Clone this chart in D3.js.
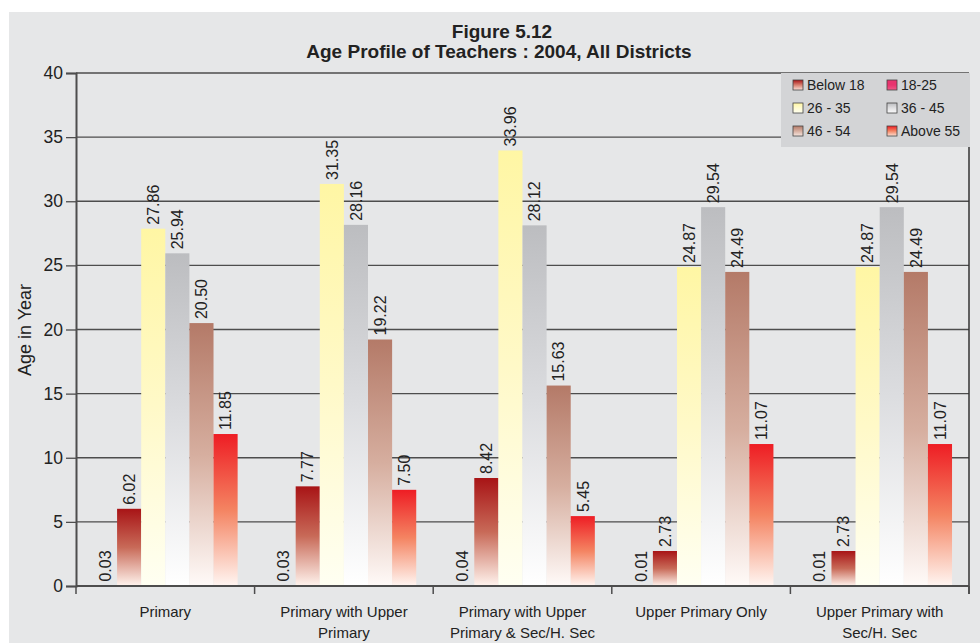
<!DOCTYPE html>
<meta charset="utf-8">
<style>

body {
    margin: 0;
    background: #fff;
}

svg text {
    font-family: "Liberation Sans", Arial, sans-serif;
    fill: #222;
}

.grid line {
    stroke: #4d4d4d;
    stroke-width: 1.3px;
}

.title {
    font-size: 19px;
    font-weight: bold;
}

.value {
    font-size: 16px;
}

</style>

<svg width="980" height="643"></svg>
<script src="https://cdn.jsdelivr.net/npm/d3@7"></script>

<script>

// chart data
var categories = [
    ["Primary"],
    ["Primary with Upper", "Primary"],
    ["Primary with Upper", "Primary & Sec/H. Sec"],
    ["Upper Primary Only"],
    ["Upper Primary with", "Sec/H. Sec"]
];
var seriesNames = ["Below 18", "18-25", "26 - 35", "36 - 45", "46 - 54", "Above 55"];
var below18  = [0.03, 0.03, 0.04, 0.01, 0.01];
var age18_25 = [6.02, 7.77, 8.42, 2.73, 2.73];
var age26_35 = [27.86, 31.35, 33.96, 24.87, 24.87];
var age36_45 = [25.94, 28.16, 28.12, 29.54, 29.54];
var age46_54 = [20.50, 19.22, 15.63, 24.49, 24.49];
var above55  = [11.85, 7.50, 5.45, 11.07, 11.07];
var yTicks = [0, 5, 10, 15, 20, 25, 30, 35, 40];

var seriesValues = [below18, age18_25, age26_35, age36_45, age46_54, above55];

// gradient stops [top, middle, bottom] for the bars
var barColors = [
    ["#e8336e", "#f07aa0", "#fff0f4"],
    ["#a81416", "#c86a58", "#fff4ee"],
    ["#fff6a4", "#fff9c8", "#fffff2"],
    ["#bcbdc0", "#dcdde0", "#ffffff"],
    ["#b47a68", "#d6ae9f", "#fffaf8"],
    ["#ee1d24", "#f48462", "#fff6f2"]
];
// legend swatch colours (as printed in the legend)
var legendColors = [
    ["#a81416", "#d88070", "#fbe0d8"],
    ["#e8336e", "#e8336e", "#f05a88"],
    ["#fff6a4", "#fffbd0", "#fffff0"],
    ["#bcbdc0", "#e0e0e2", "#fafafa"],
    ["#b47a68", "#d6ae9f", "#f6e6e0"],
    ["#ee1d24", "#f48462", "#fde0d4"]
];

var svg = d3.select("svg"),
    margin = {top: 73, right: 11, bottom: 57, left: 76},
    width = +svg.attr("width") - margin.left - margin.right,
    height = +svg.attr("height") - margin.top - margin.bottom;

// background panel
svg.append("rect")
    .attr("x", 9)
    .attr("y", 12)
    .attr("width", 980 - 9)
    .attr("height", 643 - 12)
    .attr("fill", "#e6e7e8");

var defs = svg.append("defs");

function addGradient(id, stops) {
    var g = defs.append("linearGradient")
        .attr("id", id)
        .attr("x1", 0).attr("y1", 0)
        .attr("x2", 0).attr("y2", 1);
    g.selectAll("stop")
        .data(stops)
        .enter().append("stop")
        .attr("offset", function(d, i) { return (i * 50) + "%"; })
        .attr("stop-color", function(d) { return d; });
}

barColors.forEach(function(c, i) { addGradient("bar" + i, c); });
legendColors.forEach(function(c, i) { addGradient("leg" + i, c); });

var x0 = d3.scaleBand()
    .domain(d3.range(categories.length))
    .range([0, width])
    .paddingInner(0.19)
    .paddingOuter(0.095);

var x1 = d3.scaleBand()
    .domain(d3.range(seriesNames.length))
    .range([0, x0.bandwidth()]);

var y = d3.scaleLinear()
    .domain([0, 40])
    .range([height, 0]);

var g = svg.append("g")
    .attr("transform", "translate(" + margin.left + "," + margin.top + ")");

// horizontal grid lines
g.append("g")
    .attr("class", "grid")
    .selectAll("line")
    .data(yTicks.slice(1))
    .enter().append("line")
    .attr("x1", 0)
    .attr("x2", width)
    .attr("y1", function(d) { return y(d); })
    .attr("y2", function(d) { return y(d); });

// y axis
var yAxis = g.append("g")
    .call(d3.axisLeft(y).tickValues(yTicks).tickSize(10).tickPadding(3).tickFormat(d3.format("d")));
yAxis.select(".domain").attr("stroke", "#4d4d4d").attr("stroke-width", 2);
yAxis.selectAll(".tick line").attr("stroke", "#4d4d4d").attr("stroke-width", 1.3);
yAxis.selectAll(".tick text")
    .attr("font-size", 17.5)
    .attr("font-family", "Liberation Sans, Arial, sans-serif")
    .attr("fill", "#222");

// right border
g.append("line")
    .attr("x1", width).attr("x2", width)
    .attr("y1", 0).attr("y2", height + 8)
    .attr("stroke", "#333")
    .attr("stroke-width", 1.5);

// bars
var groups = g.selectAll(".group")
    .data(categories)
    .enter().append("g")
    .attr("class", "group")
    .attr("transform", function(d, i) { return "translate(" + x0(i) + ",0)"; });

groups.selectAll("rect")
    .data(function(d, i) {
        return seriesValues.map(function(s, j) { return {s: j, v: s[i]}; });
    })
    .enter().append("rect")
    .attr("x", function(d) { return x1(d.s); })
    .attr("width", x1.bandwidth())
    .attr("y", function(d) { return y(d.v); })
    .attr("height", function(d) { return height - y(d.v); })
    .attr("fill", function(d) { return "url(#bar" + d.s + ")"; });

groups.selectAll(".value")
    .data(function(d, i) {
        return seriesValues.map(function(s, j) { return {s: j, v: s[i]}; });
    })
    .enter().append("text")
    .attr("class", "value")
    .attr("transform", function(d) {
        return "translate(" + (x1(d.s) + x1.bandwidth() / 2) + "," + (y(d.v) - 4) + ") rotate(-90)";
    })
    .attr("dy", "0.36em")
    .text(function(d) { return d.v.toFixed(2); });

// x axis
var xAxis = g.append("g")
    .attr("transform", "translate(0," + height + ")");
xAxis.append("line")
    .attr("x1", 0).attr("x2", width)
    .attr("stroke", "#4d4d4d")
    .attr("stroke-width", 2);
xAxis.selectAll(".xtick")
    .data(d3.range(categories.length + 1))
    .enter().append("line")
    .attr("class", "xtick")
    .attr("x1", function(d) { return d * x0.step(); })
    .attr("x2", function(d) { return d * x0.step(); })
    .attr("y1", 0).attr("y2", 8)
    .attr("stroke", "#4d4d4d")
    .attr("stroke-width", 1.5);

xAxis.selectAll(".xlabel")
    .data(categories)
    .enter().append("text")
    .attr("class", "xlabel")
    .attr("text-anchor", "middle")
    .attr("font-size", 15)
    .attr("x", function(d, i) { return x0(i) + x0.bandwidth() / 2; })
    .attr("y", 31)
    .selectAll("tspan")
    .data(function(d) { return d; })
    .enter().append("tspan")
    .attr("x", function() { return this.parentNode.getAttribute("x"); })
    .attr("dy", function(d, i) { return i ? 21 : 0; })
    .text(function(d) { return d; });

// y axis title
svg.append("text")
    .attr("transform", "translate(31,330) rotate(-90)")
    .attr("text-anchor", "middle")
    .attr("font-size", 18)
    .text("Age in Year");

// title
svg.append("text")
    .attr("class", "title")
    .attr("x", 502)
    .attr("y", 38)
    .attr("text-anchor", "middle")
    .text("Figure 5.12");
svg.append("text")
    .attr("class", "title")
    .attr("x", 499)
    .attr("y", 58)
    .attr("text-anchor", "middle")
    .text("Age Profile of Teachers : 2004, All Districts");

// legend
var legend = svg.append("g")
    .attr("transform", "translate(781,73)");
legend.append("rect")
    .attr("width", 189)
    .attr("height", 74)
    .attr("fill", "#d3d4d6");

var items = legend.selectAll(".item")
    .data(seriesNames)
    .enter().append("g")
    .attr("class", "item")
    .attr("transform", function(d, i) {
        return "translate(" + (12 + (i % 2) * 94) + "," + (7 + Math.floor(i / 2) * 23) + ")";
    });
items.append("rect")
    .attr("width", 10)
    .attr("height", 10)
    .attr("fill", function(d, i) { return "url(#leg" + i + ")"; })
    .attr("stroke", "#444")
    .attr("stroke-width", 0.8);
items.append("text")
    .attr("x", 14)
    .attr("y", 10)
    .attr("font-size", 14)
    .text(function(d) { return d; });

</script>
